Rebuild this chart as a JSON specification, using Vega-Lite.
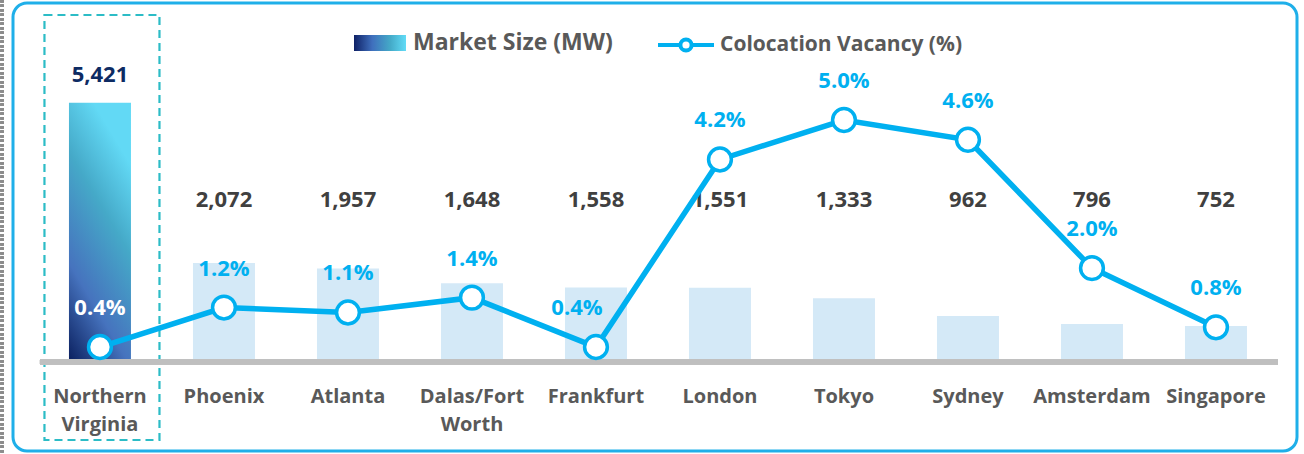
{
  "$schema": "https://vega.github.io/schema/vega-lite/v6.json",
  "width": 1284,
  "height": 448,
  "autosize": {"type": "none"},
  "padding": {"left": 13, "top": 3, "right": 7, "bottom": 3},
  "background": "white",
  "config": {
    "view": {"stroke": "#1fafe9", "strokeWidth": 3, "cornerRadius": 14},
    "font": "Open Sans"
  },
  "data": {
    "values": [
      {"city": "Northern Virginia", "mw": 5421, "vac": 0.004},
      {"city": "Phoenix", "mw": 2072, "vac": 0.012},
      {"city": "Atlanta", "mw": 1957, "vac": 0.011},
      {"city": "Dalas/Fort Worth", "mw": 1648, "vac": 0.014},
      {"city": "Frankfurt", "mw": 1558, "vac": 0.004},
      {"city": "London", "mw": 1551, "vac": 0.042},
      {"city": "Tokyo", "mw": 1333, "vac": 0.05},
      {"city": "Sydney", "mw": 962, "vac": 0.046},
      {"city": "Amsterdam", "mw": 796, "vac": 0.02},
      {"city": "Singapore", "mw": 752, "vac": 0.008}
    ]
  },
  "encoding": {
    "x": {
      "field": "city",
      "type": "nominal",
      "sort": null,
      "scale": {"paddingInner": 0.5, "paddingOuter": 0.4274, "align": 0.528},
      "axis": {
        "orient": "bottom",
        "offset": -89,
        "title": null,
        "domain": false,
        "ticks": false,
        "grid": false,
        "labelAngle": 0,
        "labelPadding": 34,
        "labelBaseline": "middle",
        "labelExpr": "split(datum.label, ' ')",
        "labelFont": "Open Sans",
        "labelFontSize": 20,
        "labelFontWeight": "bold",
        "labelColor": "#595959",
        "labelLineHeight": 28,
        "labelOverlap": false,
        "labelBound": false,
        "labelLimit": 300
      }
    }
  },
  "layer": [
    {
      "mark": {"type": "rule", "stroke": "#8c8c8c", "strokeWidth": 3, "strokeDash": [2.5, 2]},
      "encoding": {
        "x": {"datum": "Northern Virginia", "bandPosition": -1.08},
        "y": {"datum": 7573, "type": "quantitative", "scale": {"domain": [-1862, 7510], "nice": false, "zero": false}, "axis": null},
        "y2": {"datum": -1925}
      }
    },
    {
      "transform": [{"filter": "datum.city === 'Northern Virginia'"}],
      "mark": {"type": "bar", "fill": "transparent", "stroke": "#2cbcc6", "strokeWidth": 2.2, "strokeDash": [8, 5], "width": {"band": 1.855}, "xOffset": 2},
      "encoding": {
        "y": {"datum": 7259, "type": "quantitative", "scale": {"domain": [-1862, 7510], "nice": false, "zero": false}, "axis": null},
        "y2": {"datum": -1632}
      }
    },
    {
      "transform": [{"filter": "datum.city !== 'Northern Virginia'"}],
      "mark": {"type": "bar"},
      "encoding": {
        "y": {"field": "mw", "type": "quantitative", "scale": {"domain": [-1862, 7510], "nice": false, "zero": false}, "axis": null},
        "fill": {"field": "city", "type": "nominal", "scale": {"range": ["#d4e9f7"]}, "legend": null},
        "opacity": {
          "datum": "Market Size (MW)",
          "type": "ordinal",
          "scale": {"range": [1]},
          "legend": {
            "title": null,
            "orient": "none",
            "legendX": 341,
            "legendY": 14,
            "padding": 0,
            "symbolType": "M-1,-0.31H1V0.31H-1Z",
            "symbolSize": 2704,
            "symbolStrokeWidth": 0,
            "symbolFillColor": {"value": {"gradient": "linear", "x1": 0, "y1": 0, "x2": 1, "y2": 0, "stops": [{"offset": 0, "color": "#0f2166"}, {"offset": 0.35, "color": "#3f6fbd"}, {"offset": 0.7, "color": "#44aac8"}, {"offset": 1, "color": "#62dcf7"}]}},
            "labelOffset": 7,
            "labelFont": "Open Sans",
            "labelFontSize": 23,
            "labelFontWeight": "bold",
            "labelColor": "#595959",
            "labelLimit": 500
          }
        }
      }
    },
    {
      "transform": [{"filter": "datum.city === 'Northern Virginia'"}],
      "mark": {
        "type": "bar",
        "fill": {"gradient": "linear", "x1": 0, "y1": 1, "x2": 0.4, "y2": 0, "stops": [{"offset": 0, "color": "#0a1f5e"}, {"offset": 0.33, "color": "#4673be"}, {"offset": 0.7, "color": "#45a9c8"}, {"offset": 1, "color": "#62d9f5"}]}
      },
      "encoding": {
        "y": {"field": "mw", "type": "quantitative", "scale": {"domain": [-1862, 7510], "nice": false, "zero": false}, "axis": null}
      }
    },
    {
      "mark": {"type": "rule", "stroke": "#bfbfbf", "strokeWidth": 5},
      "encoding": {
        "x": {"datum": "Northern Virginia", "bandPosition": -0.468},
        "x2": {"datum": "Singapore", "bandPosition": 1.5},
        "y": {"datum": 0, "type": "quantitative", "scale": {"domain": [-1862, 7510], "nice": false, "zero": false}, "axis": null}
      }
    },
    {
      "transform": [{"filter": "datum.city !== 'Northern Virginia'"}],
      "mark": {"type": "text", "fontSize": 22, "fontWeight": "bold", "color": "#404040", "baseline": "middle"},
      "encoding": {
        "y": {"datum": 3389, "type": "quantitative", "scale": {"domain": [-1862, 7510], "nice": false, "zero": false}, "axis": null},
        "text": {"field": "mw", "type": "quantitative", "format": ","}
      }
    },
    {
      "transform": [{"filter": "datum.city === 'Northern Virginia'"}],
      "mark": {"type": "text", "fontSize": 22, "fontWeight": "bold", "color": "#0d2b63", "baseline": "middle", "dy": -28},
      "encoding": {
        "y": {"field": "mw", "type": "quantitative", "scale": {"domain": [-1862, 7510], "nice": false, "zero": false}, "axis": null},
        "text": {"field": "mw", "type": "quantitative", "format": ","}
      }
    },
    {
      "mark": {"type": "line", "strokeWidth": 5.5},
      "encoding": {
        "y": {"field": "vac", "type": "quantitative", "scale": {"domain": [-0.01707, 0.07371], "nice": false, "zero": false}, "axis": null},
        "stroke": {
          "datum": "Colocation Vacancy (%)",
          "scale": {"range": ["#00b0f0"]},
          "legend": {
            "title": null,
            "orient": "none",
            "legendX": 643,
            "legendY": 12,
            "padding": 0,
            "symbolType": "M-1,0H-0.2M0.2,0H1M-0.2,0A0.2,0.2,0,1,1,0.2,0A0.2,0.2,0,1,1,-0.2,0",
            "symbolSize": 3136,
            "symbolStrokeWidth": 4,
            "symbolFillColor": "white",
            "labelOffset": 4,
            "labelFont": "Open Sans",
            "labelFontSize": 21,
            "labelFontWeight": "bold",
            "labelColor": "#595959",
            "labelLimit": 500
          }
        }
      }
    },
    {
      "mark": {"type": "point", "shape": "circle", "filled": true, "fill": "white", "stroke": "#00b0f0", "strokeWidth": 3.5, "size": 520, "opacity": 1},
      "encoding": {
        "y": {"field": "vac", "type": "quantitative", "scale": {"domain": [-0.01707, 0.07371], "nice": false, "zero": false}, "axis": null}
      }
    },
    {
      "mark": {"type": "text", "fontSize": 22, "fontWeight": "bold", "baseline": "middle", "dy": -39, "dx": {"expr": "datum.city === 'Frankfurt' ? -19 : 0"}},
      "encoding": {
        "y": {"field": "vac", "type": "quantitative", "scale": {"domain": [-0.01707, 0.07371], "nice": false, "zero": false}, "axis": null},
        "text": {"field": "vac", "type": "quantitative", "format": ".1%"},
        "color": {"condition": {"test": "datum.city === 'Northern Virginia'", "value": "white"}, "value": "#00b0f0"}
      }
    }
  ],
  "resolve": {"scale": {"y": "independent"}}
}
